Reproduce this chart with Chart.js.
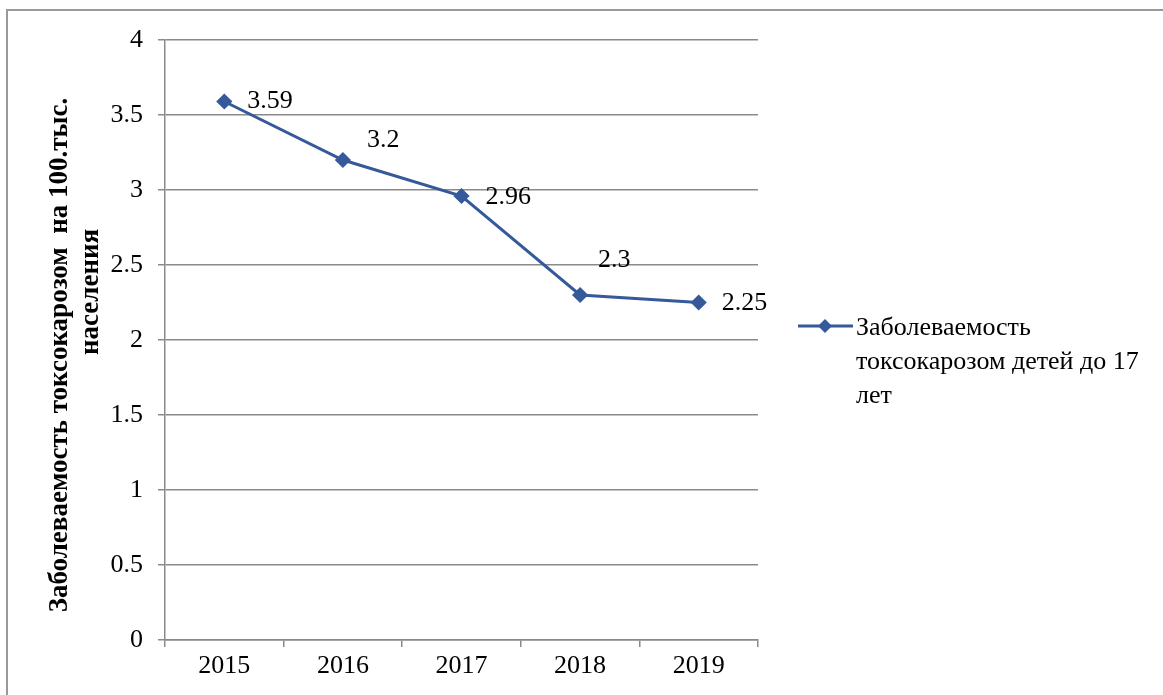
<!DOCTYPE html>
<html>
<head>
<meta charset="utf-8">
<script src="https://cdn.jsdelivr.net/npm/chart.js@4/dist/chart.umd.min.js"></script>
<style>
  html, body { margin: 0; padding: 0; background: #ffffff; }
  #wrap { position: relative; width: 1163px; height: 695px; }
  canvas { display: block; }
</style>
</head>
<body>
<div id="wrap"><canvas id="c" width="1163" height="695"></canvas></div>
<script>
const categories = ['2015', '2016', '2017', '2018', '2019'];
const seriesValues = [3.59, 3.2, 2.96, 2.3, 2.25];
const seriesName = 'Заболеваемость токсокарозом детей до 17 лет';
const legendLines = ['Заболеваемость', 'токсокарозом детей до 17', 'лет'];
const yTitleLines = ['Заболеваемость токсокарозом  на 100.тыс.', 'населения'];
const yTicks = [0, 0.5, 1, 1.5, 2, 2.5, 3, 3.5, 4];

const SERIF = '"Liberation Serif", "Times New Roman", serif';
const LINE_COLOR = '#35599a';
const GRID_COLOR = '#8a8a8a';

// label offsets relative to each point (dx, dy), as seen in reference
const labelOffsets = [[23, 0], [24, -20], [24, 1], [18, -35], [23, 1]];

const framePlugin = {
  id: 'frame',
  beforeDraw(chart) {
    const ctx = chart.ctx;
    ctx.save();
    ctx.strokeStyle = '#999999';
    ctx.lineWidth = 2;
    ctx.beginPath();
    ctx.moveTo(7, 695);
    ctx.lineTo(7, 10);
    ctx.lineTo(1163, 10);
    ctx.stroke();
    ctx.restore();
  }
};

const dataLabelPlugin = {
  id: 'dataLabels',
  afterDatasetsDraw(chart) {
    const ctx = chart.ctx;
    const meta = chart.getDatasetMeta(0);
    ctx.save();
    ctx.font = '26px ' + SERIF;
    ctx.fillStyle = '#000000';
    ctx.textAlign = 'left';
    ctx.textBaseline = 'middle';
    meta.data.forEach((pt, i) => {
      const off = labelOffsets[i] || [20, 0];
      ctx.fillText(String(seriesValues[i]), pt.x + off[0], pt.y + off[1]);
    });
    ctx.restore();
  }
};

const yTitlePlugin = {
  id: 'yTitle',
  afterDraw(chart) {
    const ctx = chart.ctx;
    ctx.save();
    ctx.font = 'bold 27px ' + SERIF;
    ctx.fillStyle = '#000000';
    ctx.textAlign = 'center';
    ctx.textBaseline = 'middle';
    const pos = [[60, 355], [91, 292]];
    yTitleLines.forEach((t, i) => {
      ctx.save();
      ctx.translate(pos[i][0], pos[i][1]);
      ctx.rotate(-Math.PI / 2);
      ctx.fillText(t, 0, 0);
      ctx.restore();
    });
    ctx.restore();
  }
};

const legendPlugin = {
  id: 'customLegend',
  afterDraw(chart) {
    const ctx = chart.ctx;
    const ds = chart.data.datasets[0];
    ctx.save();
    const y0 = 326;
    ctx.strokeStyle = ds.borderColor;
    ctx.lineWidth = 3;
    ctx.beginPath();
    ctx.moveTo(798, y0);
    ctx.lineTo(853, y0);
    ctx.stroke();
    ctx.fillStyle = ds.pointBackgroundColor;
    ctx.beginPath();
    ctx.moveTo(825, y0 - 7);
    ctx.lineTo(832, y0);
    ctx.lineTo(825, y0 + 7);
    ctx.lineTo(818, y0);
    ctx.closePath();
    ctx.fill();
    ctx.font = '26px ' + SERIF;
    ctx.fillStyle = '#000000';
    ctx.textAlign = 'left';
    ctx.textBaseline = 'middle';
    legendLines.forEach((t, i) => {
      ctx.fillText(t, 856, y0 + 2 + i * 34);
    });
    ctx.restore();
  }
};

new Chart(document.getElementById('c'), {
  type: 'line',
  data: {
    labels: categories,
    datasets: [{
      label: seriesName,
      data: seriesValues,
      borderColor: LINE_COLOR,
      backgroundColor: LINE_COLOR,
      pointBackgroundColor: LINE_COLOR,
      pointBorderColor: LINE_COLOR,
      borderWidth: 3,
      pointStyle: 'rectRot',
      pointRadius: 6,
      pointHoverRadius: 6,
      tension: 0,
      fill: false
    }]
  },
  options: {
    responsive: false,
    animation: false,
    events: [],
    layout: { padding: { top: 40, right: 405, bottom: 0, left: 0 } },
    plugins: {
      legend: { display: false },
      tooltip: { enabled: false },
      title: { display: false }
    },
    scales: {
      x: {
        offset: true,
        grid: {
          offset: true,
          drawOnChartArea: false,
          drawTicks: true,
          tickLength: 7,
          color: GRID_COLOR,
          lineWidth: 1.5
        },
        border: { display: true, color: GRID_COLOR, width: 1.5 },
        ticks: {
          color: '#000000',
          font: { family: SERIF, size: 26 },
          padding: 4,
          maxRotation: 0
        },
        afterFit(scale) { scale.height = 55; }
      },
      y: {
        min: 0,
        max: 4,
        afterBuildTicks(scale) {
          scale.ticks = yTicks.map(v => ({ value: v }));
        },
        grid: {
          color: GRID_COLOR,
          lineWidth: 1.5,
          tickLength: 7
        },
        border: { display: true, color: GRID_COLOR, width: 1.5 },
        ticks: {
          color: '#000000',
          font: { family: SERIF, size: 26 },
          padding: 15,
          callback: (v) => String(v)
        },
        afterFit(scale) { scale.width = 165; }
      }
    }
  },
  plugins: [framePlugin, dataLabelPlugin, yTitlePlugin, legendPlugin]
});
</script>
</body>
</html>
